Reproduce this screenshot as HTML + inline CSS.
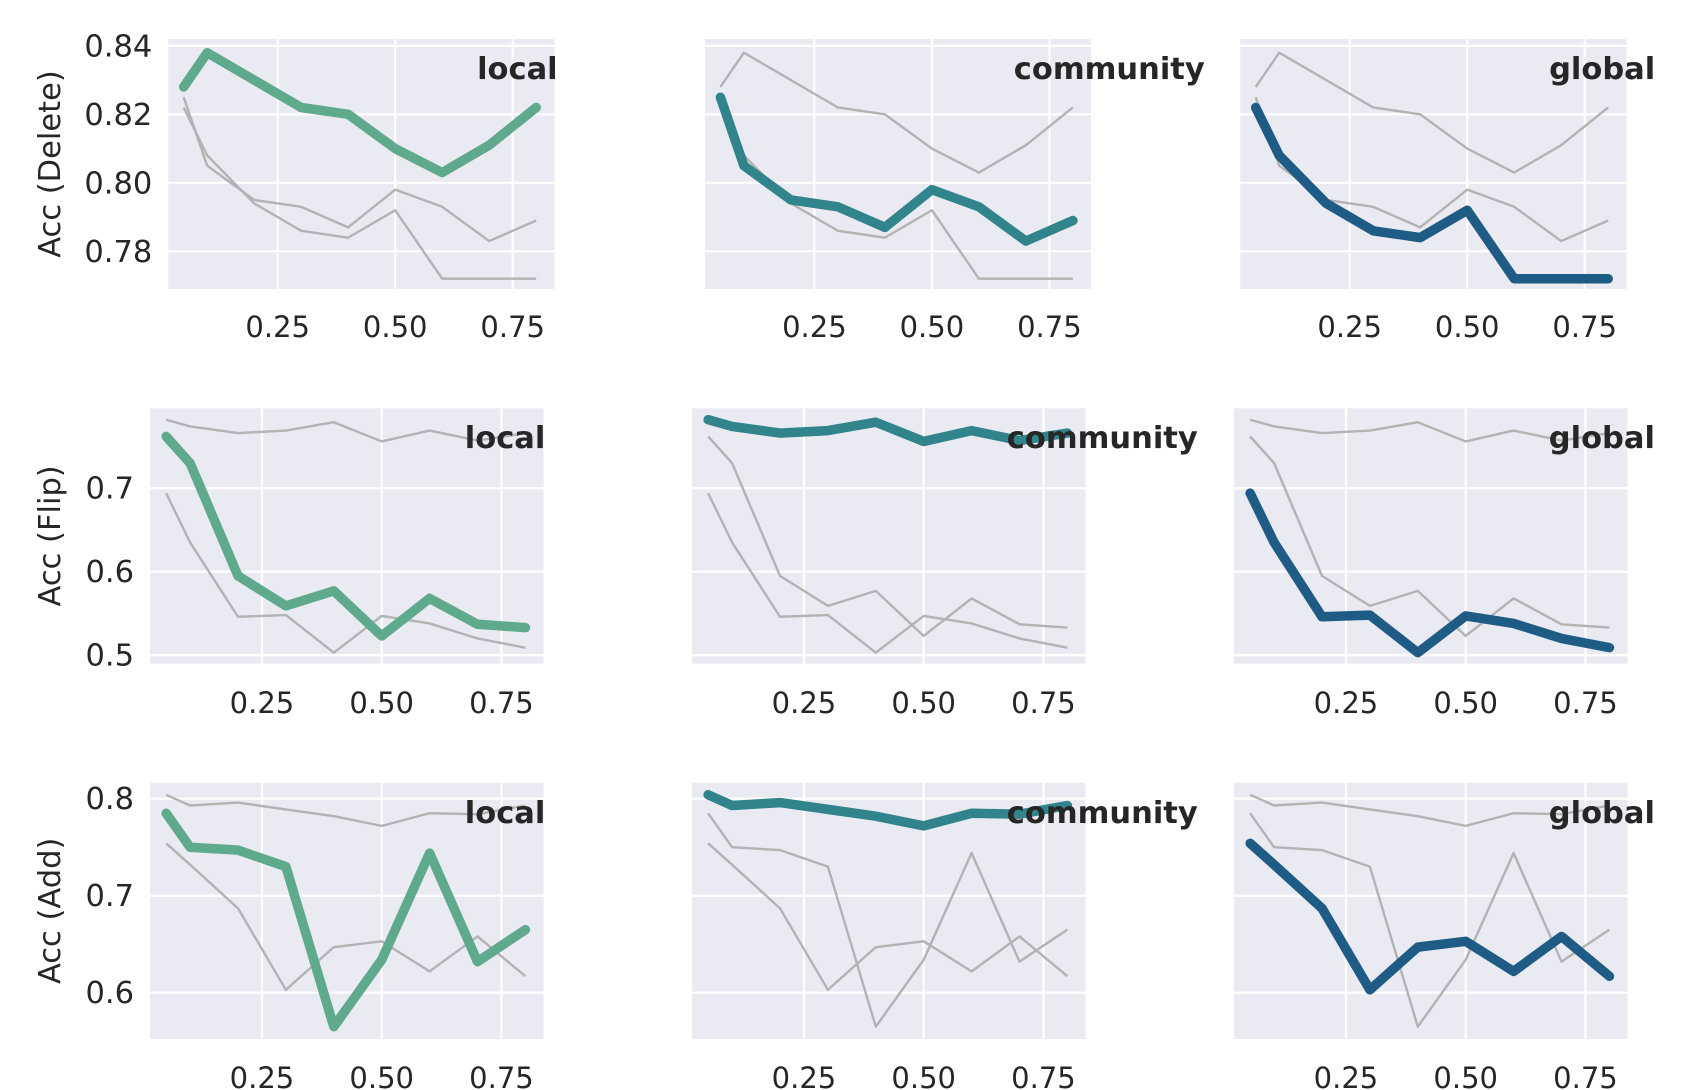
<!DOCTYPE html>
<html><head><meta charset="utf-8">
<style>
html,body{margin:0;padding:0;background:#fff;}
svg{display:block;font-family:"DejaVu Sans","Liberation Sans",sans-serif;}
</style></head>
<body>
<svg id="fig" width="1688" height="1090" viewBox="0 0 1688 1090" xmlns="http://www.w3.org/2000/svg"></svg>
<script>
const xValues = [0.05, 0.1, 0.2, 0.3, 0.4, 0.5, 0.6, 0.7, 0.8];
const xTicks = [0.25, 0.5, 0.75];
const xTickLabels = ["0.25", "0.50", "0.75"];
const methods = ["local", "community", "global"];
const rowLabels = ["Acc (Delete)", "Acc (Flip)", "Acc (Add)"];

const deleteLocal = [0.828, 0.838, 0.830, 0.822, 0.820, 0.810, 0.803, 0.811, 0.822];
const deleteCommunity = [0.825, 0.805, 0.795, 0.793, 0.787, 0.798, 0.793, 0.783, 0.789];
const deleteGlobal = [0.822, 0.808, 0.794, 0.786, 0.784, 0.792, 0.772, 0.772, 0.772];

const flipLocal = [0.762, 0.730, 0.595, 0.559, 0.577, 0.523, 0.568, 0.537, 0.533];
const flipCommunity = [0.782, 0.774, 0.766, 0.769, 0.779, 0.756, 0.769, 0.757, 0.766];
const flipGlobal = [0.694, 0.635, 0.546, 0.548, 0.503, 0.547, 0.538, 0.520, 0.509];

const addLocal = [0.785, 0.750, 0.747, 0.730, 0.565, 0.634, 0.744, 0.632, 0.665];
const addCommunity = [0.804, 0.793, 0.796, 0.789, 0.782, 0.772, 0.785, 0.784, 0.793];
const addGlobal = [0.754, 0.732, 0.687, 0.603, 0.647, 0.653, 0.622, 0.658, 0.617];

const yTicksDelete = [0.78, 0.80, 0.82, 0.84];
const yTickLabelsDelete = ["0.78", "0.80", "0.82", "0.84"];
const yTicksFlip = [0.5, 0.6, 0.7];
const yTickLabelsFlip = ["0.5", "0.6", "0.7"];
const yTicksAdd = [0.6, 0.7, 0.8];
const yTickLabelsAdd = ["0.6", "0.7", "0.8"];

const rows = [
  {series:[deleteLocal, deleteCommunity, deleteGlobal], yt:yTicksDelete, ytl:yTickLabelsDelete, ylim:[0.769,0.842],
   top:39, bottom:289, lefts:[168.3,705,1240.3], width:386, x0off:-8.1, xscale:470, titleY:79, tickY:337},
  {series:[flipLocal, flipCommunity, flipGlobal], yt:yTicksFlip, ytl:yTickLabelsFlip, ylim:[0.490,0.7957],
   top:408.3, bottom:663.5, lefts:[150,692,1234], width:393.5, x0off:-7.8, xscale:479, titleY:448, tickY:713},
  {series:[addLocal, addCommunity, addGlobal], yt:yTicksAdd, ytl:yTickLabelsAdd, ylim:[0.5523,0.8165],
   top:782.7, bottom:1039, lefts:[150,692,1234], width:393.5, x0off:-7.8, xscale:479, titleY:823, tickY:1088}
];
const colors = ["#5fa98d", "#32848c", "#1f5c85"];
const NS = "http://www.w3.org/2000/svg";
const svg = document.getElementById("fig");
function mk(tag, attrs, parent){
  const e = document.createElementNS(NS, tag);
  for (const k in attrs) e.setAttribute(k, attrs[k]);
  (parent||svg).appendChild(e);
  return e;
}
rows.forEach((r, ri) => {
  const yScale = v => r.bottom - (v - r.ylim[0]) / (r.ylim[1] - r.ylim[0]) * (r.bottom - r.top);
  r.lefts.forEach((left, ci) => {
    const xScale = v => left + r.x0off + v * r.xscale;
    const g = mk("g", {});
    
    
    const bg = mk("rect", {x:left, y:r.top, width:r.width, height:r.bottom-r.top, fill:"#eaeaf2"}, g);
    
    
    xTicks.forEach((t, i) => {
      const x = xScale(t);
      const gl = mk("line", {x1:x, x2:x, y1:r.top, y2:r.bottom, stroke:"#fff", "stroke-width":2.2}, g);
      
      
      const tl = mk("text", {x:x, y:r.tickY, "text-anchor":"middle", "font-size":29, fill:"#262626"}, g);
      tl.textContent = xTickLabels[i];
      
      
    });
    r.yt.forEach((t, i) => {
      const y = yScale(t);
      const gl = mk("line", {x1:left, x2:left+r.width, y1:y, y2:y, stroke:"#fff", "stroke-width":2.2}, g);
      
      
      if (ci === 0) {
        const tl = mk("text", {x:left-16, y:y+10.5, "text-anchor":"end", "font-size":30.5, fill:"#262626"}, g);
        tl.textContent = r.ytl[i];
        
        
      }
    });
    r.series.forEach((s, si) => {
      if (si === ci) return;
      const p = mk("polyline", {points:s.map((v,k)=>xScale(xValues[k])+","+yScale(v)).join(" "), fill:"none", stroke:"#b3b3b3", "stroke-width":2.4, "stroke-linejoin":"round"}, g);
      
      
    });
    const s = r.series[ci];
    const p = mk("polyline", {points:s.map((v,k)=>xScale(xValues[k])+","+yScale(v)).join(" "), fill:"none", stroke:colors[ci], "stroke-width":9.5, "stroke-linejoin":"round", "stroke-linecap":"round"}, g);
    
    
    const tt = mk("text", {x:left + 0.80*r.width, y:r.titleY, "font-size":30.5, "font-weight":"bold", fill:"#262626"}, g);
    tt.textContent = methods[ci];
    
    
  });
  const cy = (r.top + r.bottom) / 2;
  const yl = mk("text", {x:0, y:0, transform:"translate(60,"+cy+") rotate(-90)", "text-anchor":"middle", "font-size":30.5, fill:"#262626"});
  yl.textContent = rowLabels[ri];
  
  
});
</script>
</body></html>
